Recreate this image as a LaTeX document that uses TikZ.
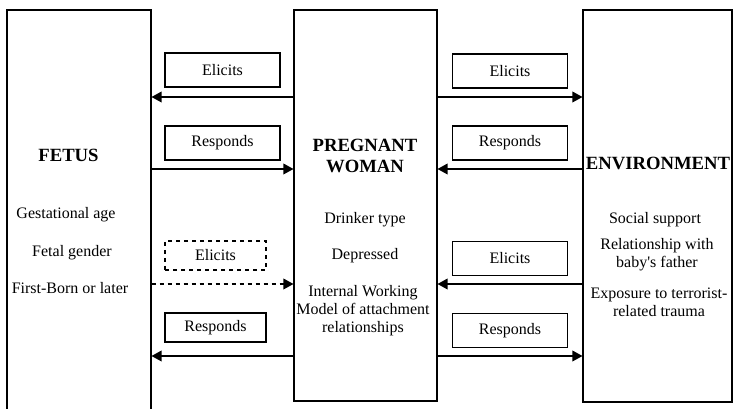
\documentclass[tikz,border=0pt]{standalone}
\usepackage{fontspec}
\setmainfont{Liberation Serif}
\usetikzlibrary{arrows.meta,positioning}

\begin{document}
\begin{tikzpicture}[x=0.75pt,y=-0.75pt,
    panel/.style={draw,line width=0.8pt,inner sep=0pt},
    tag/.style={draw,line width=0.8pt,inner sep=0pt,minimum width=86.25pt,
                minimum height=25.5pt,font=\fontsize{12}{14}\selectfont},
    smalltag/.style={tag,minimum width=75.75pt,minimum height=21.75pt},
    link/.style={-{Triangle[length=7.5pt,width=8pt]},line width=1pt},
    head/.style={font=\fontsize{14}{15.75}\selectfont\bfseries,align=center,anchor=base},
    item/.style={font=\fontsize{12}{13.5}\selectfont,align=center,anchor=base}]

    \clip (0,0) rectangle (733,409);

    % ════════ panels ════════
    \node[panel,minimum width=108pt,minimum height=303.75pt] (fetus) at (79,212.5){};
    \node[panel,minimum width=107.25pt,minimum height=293.25pt] (woman) at (365.5,205.5){};
    \node[panel,minimum width=111.75pt,minimum height=294pt] (env) at (657.5,206){};

    % rows of the arrows
    \coordinate (r1) at (0,97);
    \coordinate (r2) at (0,169);
    \coordinate (r3) at (0,284);
    \coordinate (r4) at (0,356);

    % ════════ FETUS ════════
    \node[head] (fetusT) at (68.5,162){FETUS};
    \node[item] (ga) at (66,219){Gestational age};
    \node[item] (fg) at (72,257){Fetal gender};
    \node[item] (fb) at (70,294){First-Born or later};

    % ════════ PREGNANT WOMAN ════════ (base = last line)
    \node[head] (womanT) at (365,173){PREGNANT\\WOMAN};
    \node[item] (dt) at (365,224){Drinker type};
    \node[item] (dp) at (365,260){Depressed};
    \node[item] (iw) at (363,333){Internal Working\\Model of attachment\\relationships};

    % ════════ ENVIRONMENT ════════
    \node[head] (envT) at (658,170){ENVIRONMENT};
    \node[item] (ss) at (655,224){Social support};
    \node[item] (rf) at (657,268){Relationship with\\baby\textquotesingle s father};
    \node[item] (ex) at (659,317){Exposure to terrorist-\\related trauma};

    % ════════ fetus <-> woman ════════
    \node[tag] (el1) at (222.5,70){Elicits};
    \draw[link] (woman.west |- r1) -- (fetus.east |- r1);
    \node[tag] (re1) at (222.5,143){Responds};
    \draw[link] (fetus.east |- r2) -- (woman.west |- r2);
    \node[smalltag,dashed] (el2) at (215.5,255.5){Elicits};
    \draw[link,dashed] (fetus.east |- r3) -- (woman.west |- r3);
    \node[smalltag] (re2) at (215.5,327.5){Responds};
    \draw[link] (woman.west |- r4) -- (fetus.east |- r4);

    % ════════ woman <-> environment ════════
    \node[tag] (el3) at (510,71){Elicits};
    \draw[link] (woman.east |- r1) -- (env.west |- r1);
    \node[tag] (re3) at (510,143){Responds};
    \draw[link] (env.west |- r2) -- (woman.east |- r2);
    \node[tag] (el4) at (510,258.5){Elicits};
    \draw[link] (env.west |- r3) -- (woman.east |- r3);
    \node[tag] (re4) at (510,330.5){Responds};
    \draw[link] (woman.east |- r4) -- (env.west |- r4);

\end{tikzpicture}
\end{document}
